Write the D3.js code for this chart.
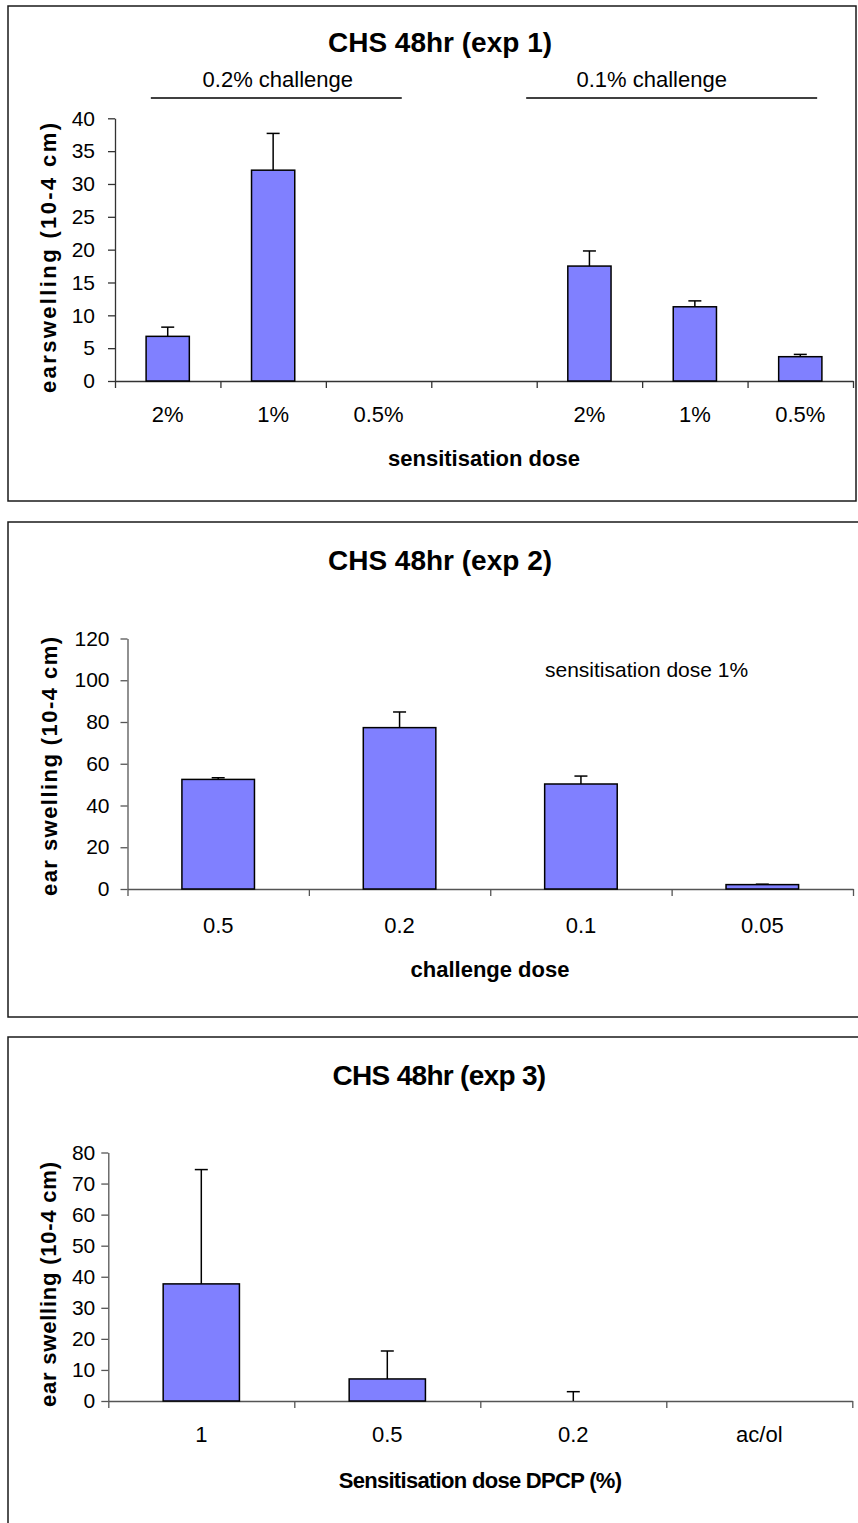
<!DOCTYPE html>
<html>
<head>
<meta charset="utf-8">
<script src="https://cdn.jsdelivr.net/npm/d3@7"></script>
<style>
  body { margin: 0; background: #fff; }
  svg { display: block; }
  text { font-family: "Liberation Sans", Arial, sans-serif; fill: #000; }
</style>
</head>
<body>
<svg id="chart" width="858" height="1523"></svg>
<script>
// ---- Experiment 1: two challenge doses x three sensitisation doses ----
const exp1Title = "CHS 48hr (exp 1)";
const exp1Categories = ["2%", "1%", "0.5%", "", "2%", "1%", "0.5%"];
const exp1Means = [6.8, 32.1, null, null, 17.5, 11.3, 3.7];
const exp1Errors = [1.4, 5.6, null, null, 2.3, 0.9, 0.35];
const exp1YTicks = [0, 5, 10, 15, 20, 25, 30, 35, 40];
const exp1GroupLabels = ["0.2% challenge", "0.1% challenge"];
const exp1YLabel = "earswelling (10-4 cm)";
const exp1XLabel = "sensitisation dose";

// ---- Experiment 2: challenge dose series ----
const exp2Title = "CHS 48hr (exp 2)";
const exp2Categories = ["0.5", "0.2", "0.1", "0.05"];
const exp2Means = [52.5, 77.3, 50.3, 2.1];
const exp2Errors = [0.8, 7.5, 3.8, 0.2];
const exp2YTicks = [0, 20, 40, 60, 80, 100, 120];
const exp2Note = "sensitisation dose 1%";
const exp2YLabel = "ear swelling (10-4 cm)";
const exp2XLabel = "challenge dose";

// ---- Experiment 3: DPCP sensitisation dose series ----
const exp3Title = "CHS 48hr (exp 3)";
const exp3Categories = ["1", "0.5", "0.2", "ac/ol"];
const exp3Means = [37.7, 7.1, 0, null];
const exp3Errors = [36.8, 9.0, 3.0, null];
const exp3YTicks = [0, 10, 20, 30, 40, 50, 60, 70, 80];
const exp3YLabel = "ear swelling (10-4 cm)";
const exp3XLabel = "Sensitisation dose DPCP (%)";

const BAR_FILL = "#8080ff";
const svg = d3.select("#chart");

function drawPanel(d, L) {
  const g = svg.append("g");

  // outer frame
  g.append("rect")
    .attr("x", L.frame[0]).attr("y", L.frame[1])
    .attr("width", L.frame[2]).attr("height", L.frame[3])
    .attr("fill", "none").attr("stroke", "#1a1a1a").attr("stroke-width", 1.5);

  const n = d.categories.length;
  const xBand = d3.scaleBand().domain(d3.range(n))
    .range([L.left, L.right]).paddingInner(0).paddingOuter(0);
  const xEdge = d3.scaleLinear().domain([0, n]).range([L.left, L.right]);
  const y = d3.scaleLinear().domain([0, d3.max(d.yTicks)]).range([L.bottom, L.top]);
  const bw = xBand.bandwidth();
  const barW = bw * L.barFrac;

  // title
  g.append("text")
    .attr("x", L.titleX).attr("y", L.titleY)
    .attr("text-anchor", "middle")
    .attr("font-size", 28).attr("font-weight", "bold")
    .attr("letter-spacing", L.titleSpacing || 0)
    .text(d.title);

  // y axis
  const yAxis = g.append("g")
    .attr("transform", `translate(${L.left},0)`)
    .call(d3.axisLeft(y).tickValues(d.yTicks).tickSize(7).tickSizeOuter(0)
      .tickPadding(L.yTickPad).tickFormat(d3.format("d")));
  yAxis.select(".domain").attr("stroke", L.axisColor).attr("stroke-width", 1.3);
  yAxis.selectAll(".tick line").attr("stroke", L.axisColor).attr("stroke-width", 1.3);
  yAxis.selectAll(".tick text")
    .attr("font-size", 21).attr("font-family", '"Liberation Sans", Arial, sans-serif')
    .attr("fill", "#000");

  // x axis: ticks on category boundaries
  const xAxis = g.append("g")
    .attr("transform", `translate(0,${L.bottom})`)
    .call(d3.axisBottom(xEdge).tickValues(d3.range(n + 1)).tickSize(7)
      .tickSizeOuter(0).tickFormat(""));
  xAxis.select(".domain").attr("stroke", L.axisColor).attr("stroke-width", 1.3);
  xAxis.selectAll(".tick line").attr("stroke", L.axisColor).attr("stroke-width", 1.3);

  // category labels centred in each band
  g.append("g").selectAll("text")
    .data(d.categories)
    .join("text")
    .attr("x", (c, i) => xBand(i) + bw / 2)
    .attr("y", L.xTickBaseline)
    .attr("text-anchor", "middle")
    .attr("font-size", 22)
    .text(c => c);

  // bars
  const rows = d.means.map((m, i) => ({ i, m, e: d.errors[i] }));
  g.append("g").selectAll("rect")
    .data(rows.filter(r => r.m !== null && r.m > 0))
    .join("rect")
    .attr("x", r => xBand(r.i) + (bw - barW) / 2)
    .attr("y", r => y(r.m))
    .attr("width", barW)
    .attr("height", r => y(0) - y(r.m))
    .attr("fill", BAR_FILL)
    .attr("stroke", "#000").attr("stroke-width", 1.5);

  // plus-only error bars
  const eb = g.append("g").attr("stroke", "#000").attr("stroke-width", 1.5);
  rows.filter(r => r.m !== null && r.e !== null).forEach(r => {
    const cx = xBand(r.i) + bw / 2;
    eb.append("line").attr("x1", cx).attr("x2", cx)
      .attr("y1", y(r.m)).attr("y2", y(r.m + r.e));
    eb.append("line").attr("x1", cx - 6.5).attr("x2", cx + 6.5)
      .attr("y1", y(r.m + r.e)).attr("y2", y(r.m + r.e));
  });

  // axis titles
  g.append("text")
    .attr("x", L.xTitleX).attr("y", L.xTitleY)
    .attr("text-anchor", "middle")
    .attr("font-size", L.xTitleSize).attr("font-weight", "bold")
    .attr("letter-spacing", L.xTitleSpacing || 0)
    .text(d.xLabel);

  g.append("text")
    .attr("transform", `translate(${L.yTitleX},${L.yTitleY}) rotate(-90)`)
    .attr("text-anchor", "middle")
    .attr("font-size", 22).attr("font-weight", "bold")
    .attr("textLength", L.yTitleLength).attr("lengthAdjust", "spacing")
    .text(d.yLabel);

  return { g, xBand, xEdge, y, bw };
}

// ---- panel 1 ----
const p1 = drawPanel(
  { title: exp1Title, categories: exp1Categories, means: exp1Means, errors: exp1Errors,
    yTicks: exp1YTicks, yLabel: exp1YLabel, xLabel: exp1XLabel },
  { frame: [8, 6, 848, 495], left: 115, right: 853, top: 118.3, bottom: 381,
    barFrac: 0.41, axisColor: "#333", yTickPad: 13,
    titleX: 440, titleY: 52, xTickBaseline: 422,
    xTitleX: 484, xTitleY: 466, xTitleSize: 22,
    yTitleX: 56, yTitleY: 258, yTitleLength: 270 });

// challenge-dose group headers with their spanning rules
const groupSpans = [[0, 2], [4, 6]];
const groupRule = [[0.34, 0.72], [-0.1, 0.66]];
exp1GroupLabels.forEach((label, k) => {
  const [a, b] = groupSpans[k];
  const x1 = p1.xBand(a) + p1.bw * groupRule[k][0];
  const x2 = p1.xBand(b) + p1.bw * groupRule[k][1];
  p1.g.append("line").attr("x1", x1).attr("x2", x2).attr("y1", 98).attr("y2", 98)
    .attr("stroke", "#000").attr("stroke-width", 1.5);
  p1.g.append("text").attr("x", (x1 + x2) / 2 + (k === 0 ? 1.5 : -20)).attr("y", 87)
    .attr("text-anchor", "middle").attr("font-size", 22).text(label);
});

// ---- panel 2 ----
const p2 = drawPanel(
  { title: exp2Title, categories: exp2Categories, means: exp2Means, errors: exp2Errors,
    yTicks: exp2YTicks, yLabel: exp2YLabel, xLabel: exp2XLabel },
  { frame: [8, 522, 870, 495], left: 127.5, right: 853, top: 638.5, bottom: 889,
    barFrac: 0.40, axisColor: "#555", yTickPad: 11,
    titleX: 440, titleY: 570, xTickBaseline: 933,
    xTitleX: 490, xTitleY: 977, xTitleSize: 22,
    yTitleX: 57, yTitleY: 766.5, yTitleLength: 259 });

p2.g.append("text").attr("x", 545).attr("y", 677)
  .attr("font-size", 21).text(exp2Note);

// ---- panel 3 ----
drawPanel(
  { title: exp3Title, categories: exp3Categories, means: exp3Means, errors: exp3Errors,
    yTicks: exp3YTicks, yLabel: exp3YLabel, xLabel: exp3XLabel },
  { frame: [8, 1037, 870, 520], left: 108.3, right: 852.3, top: 1152.5, bottom: 1401,
    barFrac: 0.41, axisColor: "#555", yTickPad: 6,
    titleX: 439, titleY: 1085, titleSpacing: -0.7, xTickBaseline: 1441.5,
    xTitleX: 480, xTitleY: 1488, xTitleSize: 22, xTitleSpacing: -0.7,
    yTitleX: 56, yTitleY: 1284.5, yTitleLength: 245 });
</script>
</body>
</html>
